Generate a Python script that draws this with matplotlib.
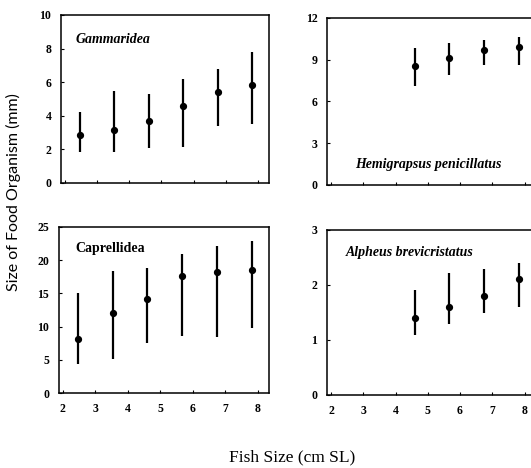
import numpy as np
import matplotlib
matplotlib.use('Agg')
import matplotlib.pyplot as plt

# fish size class midpoints (cm SL)
x_all = [2.46, 3.54, 4.6, 5.66, 6.74, 7.82]
x_big = [4.6, 5.66, 6.74, 7.82]

# Gammaridea
gam_mean = [2.85, 3.15, 3.7, 4.6, 5.4, 5.85]
gam_hi = [4.25, 5.5, 5.3, 6.2, 6.8, 7.8]
gam_lo = [1.85, 1.85, 2.1, 2.15, 3.4, 3.5]

# Hemigrapsus penicillatus
hem_mean = [8.55, 9.1, 9.7, 9.9]
hem_hi = [9.85, 10.2, 10.4, 10.6]
hem_lo = [7.1, 7.9, 8.6, 8.6]

# Caprellidea
cap_mean = [8.2, 12.1, 14.2, 17.6, 18.2, 18.6]
cap_hi = [15.0, 18.4, 18.8, 21.0, 22.1, 22.9]
cap_lo = [4.4, 5.1, 7.5, 8.6, 8.5, 9.8]

# Alpheus brevicristatus
alp_mean = [1.39, 1.59, 1.79, 2.1]
alp_hi = [1.9, 2.21, 2.29, 2.39]
alp_lo = [1.09, 1.29, 1.49, 1.59]

plt.rcParams['font.family'] = ['Liberation Serif', 'DejaVu Serif']

fig = plt.figure(figsize=(5.31, 4.68), dpi=100)
ax1 = fig.add_axes([0.115, 0.609, 0.391, 0.359])
ax2 = fig.add_axes([0.616, 0.605, 0.392, 0.357])
ax3 = fig.add_axes([0.111, 0.160, 0.395, 0.355])
ax4 = fig.add_axes([0.616, 0.156, 0.392, 0.353])


def panel(ax, x, m, hi, lo, ymax, yticks, showx):
    m = np.array(m)
    err = [m - np.array(lo), np.array(hi) - m]
    ax.errorbar(x, m, yerr=err, fmt='o', color='black', ms=4.2,
                elinewidth=1.6, capsize=0)
    ax.set_xlim(1.88, 8.33)
    ax.set_ylim(0, ymax)
    ax.set_yticks(yticks)
    ax.set_xticks(range(2, 9))
    ax.tick_params(direction='in', length=2, width=0.8, labelsize=8.5, pad=7)
    for lab in ax.get_yticklabels() + ax.get_xticklabels():
        lab.set_fontweight('bold')
    if not showx:
        ax.set_xticklabels([])
    for s in ax.spines.values():
        s.set_linewidth(1.1)


panel(ax1, x_all, gam_mean, gam_hi, gam_lo, 10, [0, 2, 4, 6, 8, 10], False)
panel(ax2, x_big, hem_mean, hem_hi, hem_lo, 12, [0, 3, 6, 9, 12], False)
panel(ax3, x_all, cap_mean, cap_hi, cap_lo, 25, [0, 5, 10, 15, 20, 25], True)
panel(ax4, x_big, alp_mean, alp_hi, alp_lo, 3, [0, 1, 2, 3], True)

ax1.text(0.072, 0.857, 'Gammaridea', transform=ax1.transAxes, fontsize=10,
         fontweight='bold', style='italic', va='center')
ax2.text(0.135, 0.12, 'Hemigrapsus penicillatus', transform=ax2.transAxes,
         fontsize=10, fontweight='bold', style='italic', va='center')
ax3.text(0.08, 0.87, 'Caprellidea', transform=ax3.transAxes, fontsize=10,
         fontweight='bold', va='center')
ax4.text(0.09, 0.86, 'Alpheus brevicristatus', transform=ax4.transAxes,
         fontsize=10, fontweight='bold', style='italic', va='center')

fig.text(0.025, 0.59, 'Size of Food Organism (mm)', rotation=90,
         ha='center', va='center', fontsize=11.5, family=['Lato', 'DejaVu Sans'])
fig.text(0.551, 0.022, 'Fish Size (cm SL)', ha='center', va='center',
         fontsize=12.5)

fig.savefig('out.png', dpi=100)
